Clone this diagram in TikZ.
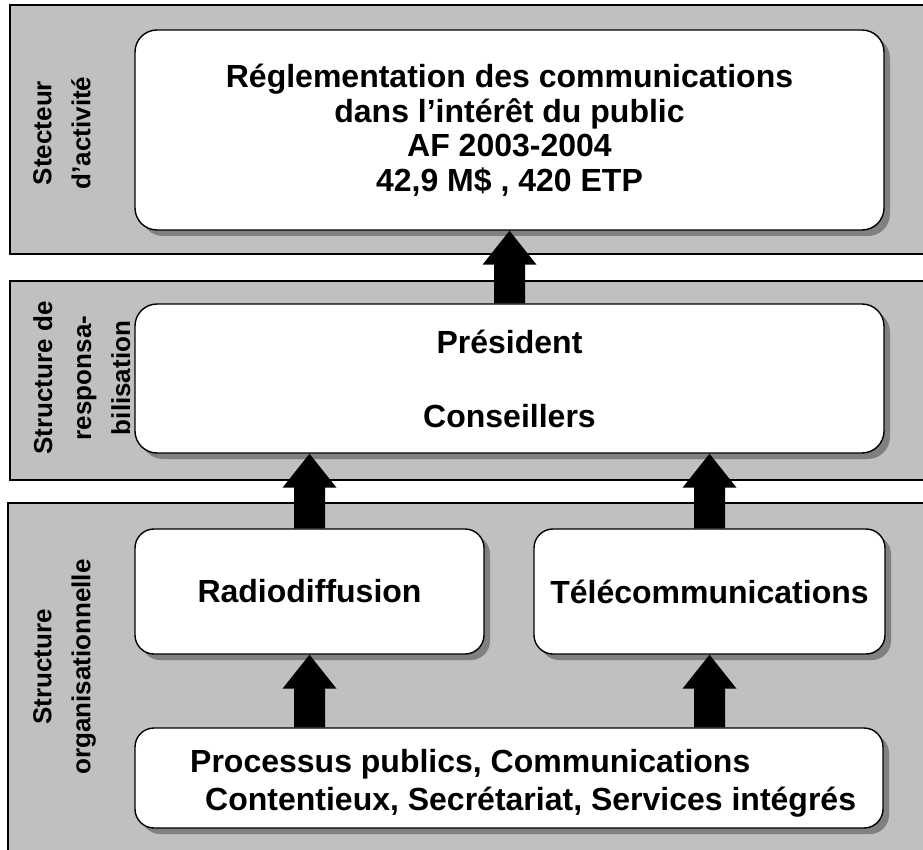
\documentclass[tikz,border=0pt]{standalone}
\usepackage{fontspec}
\setmainfont{Liberation Sans}
\usetikzlibrary{positioning,calc,shadows}

\definecolor{panelgray}{HTML}{C0C0C0}
\definecolor{shadowgray}{HTML}{808080}

\tikzset{
  panel/.style={fill=panelgray, draw=black, line width=1.3pt},
  unitbox/.style={draw=black, fill=white, line width=1.4pt, rounded corners=22pt,
    align=center, inner sep=0pt, font=\fontsize{32}{37}\selectfont\bfseries,
    drop shadow={shadow xshift=6pt, shadow yshift=-6pt, fill=shadowgray, opacity=1}},
  sidelabel/.style={rotate=90, anchor=north, align=center, inner sep=0pt,
    font=\fontsize{26}{39}\selectfont\bfseries}
}

% block arrow pointing up from the top of #1 to the bottom of #2
\newcommand{\liftarrow}[2]{%
  \fill[black] let \p1=(#1.north), \p2=(#2.south) in
    (\x1-15.5pt,\y1) -- (\x1-15.5pt,\y2-34pt) -- (\x1-27pt,\y2-34pt) -- (\x1,\y2)
    -- (\x1+27pt,\y2-34pt) -- (\x1+15.5pt,\y2-34pt) -- (\x1+15.5pt,\y1) -- cycle;}

\begin{document}
\begin{tikzpicture}[x=1pt, y=-1pt]

            \useasboundingbox (0,0) rectangle (923,850);

            % Draw the three gray bands
            \draw[panel] (10,5) rectangle (930,254);
            \draw[panel] (10,281) rectangle (930,480);
            \draw[panel] (8,503) rectangle (930,860);

            % Labels of the bands
            \node[sidelabel] (lblsecteur) at (33,133) {Stecteur\\d’activité};
            \node[sidelabel] (lblrespons) at (33,378) {Structure de\\responsa-\\bilisation};
            \node[sidelabel] (lblorga) at (33,667) {Structure\\organisationnelle};

            % Band 1: activity sector
            \node[unitbox, font=\fontsize{32}{34.5}\selectfont\bfseries, minimum width=749pt, minimum height=200pt] (secteur) at (509.5,130)
              {Réglementation des communications\\dans l’intérêt du public\\AF 2003-2004\\42,9 M\$ , 420 ETP};

            % Band 2: accountability
            \node[unitbox, minimum width=749pt, minimum height=149pt] (president) at (509.5,378.5)
              {Président\\[37pt]Conseillers};

            % Band 3: organisation
            \node[unitbox, rounded corners=19pt, minimum width=349pt, minimum height=125pt] (radio) at (309.5,591.5)
              {Radiodiffusion};
            \node[unitbox, rounded corners=19pt, minimum width=351pt, minimum height=125pt] (telecom) at (709.5,591.5)
              {Télécommunications};
            \node[unitbox, rounded corners=19pt, minimum width=748pt, minimum height=100pt] (services) at (509,778) {};
            \node[anchor=west, align=left, inner sep=0pt, font=\fontsize{32}{38}\selectfont\bfseries] (servicestxt) at (190,783)
              {Processus publics, Communications\\\hspace*{15pt}Contentieux, Secrétariat, Services intégrés};

            % Arrows going up
            \liftarrow{president}{secteur}
            \liftarrow{radio}{president}
            \liftarrow{telecom}{president}
            \liftarrow{services.north -| radio}{radio}
            \liftarrow{services.north -| telecom}{telecom}

\end{tikzpicture}
\end{document}
